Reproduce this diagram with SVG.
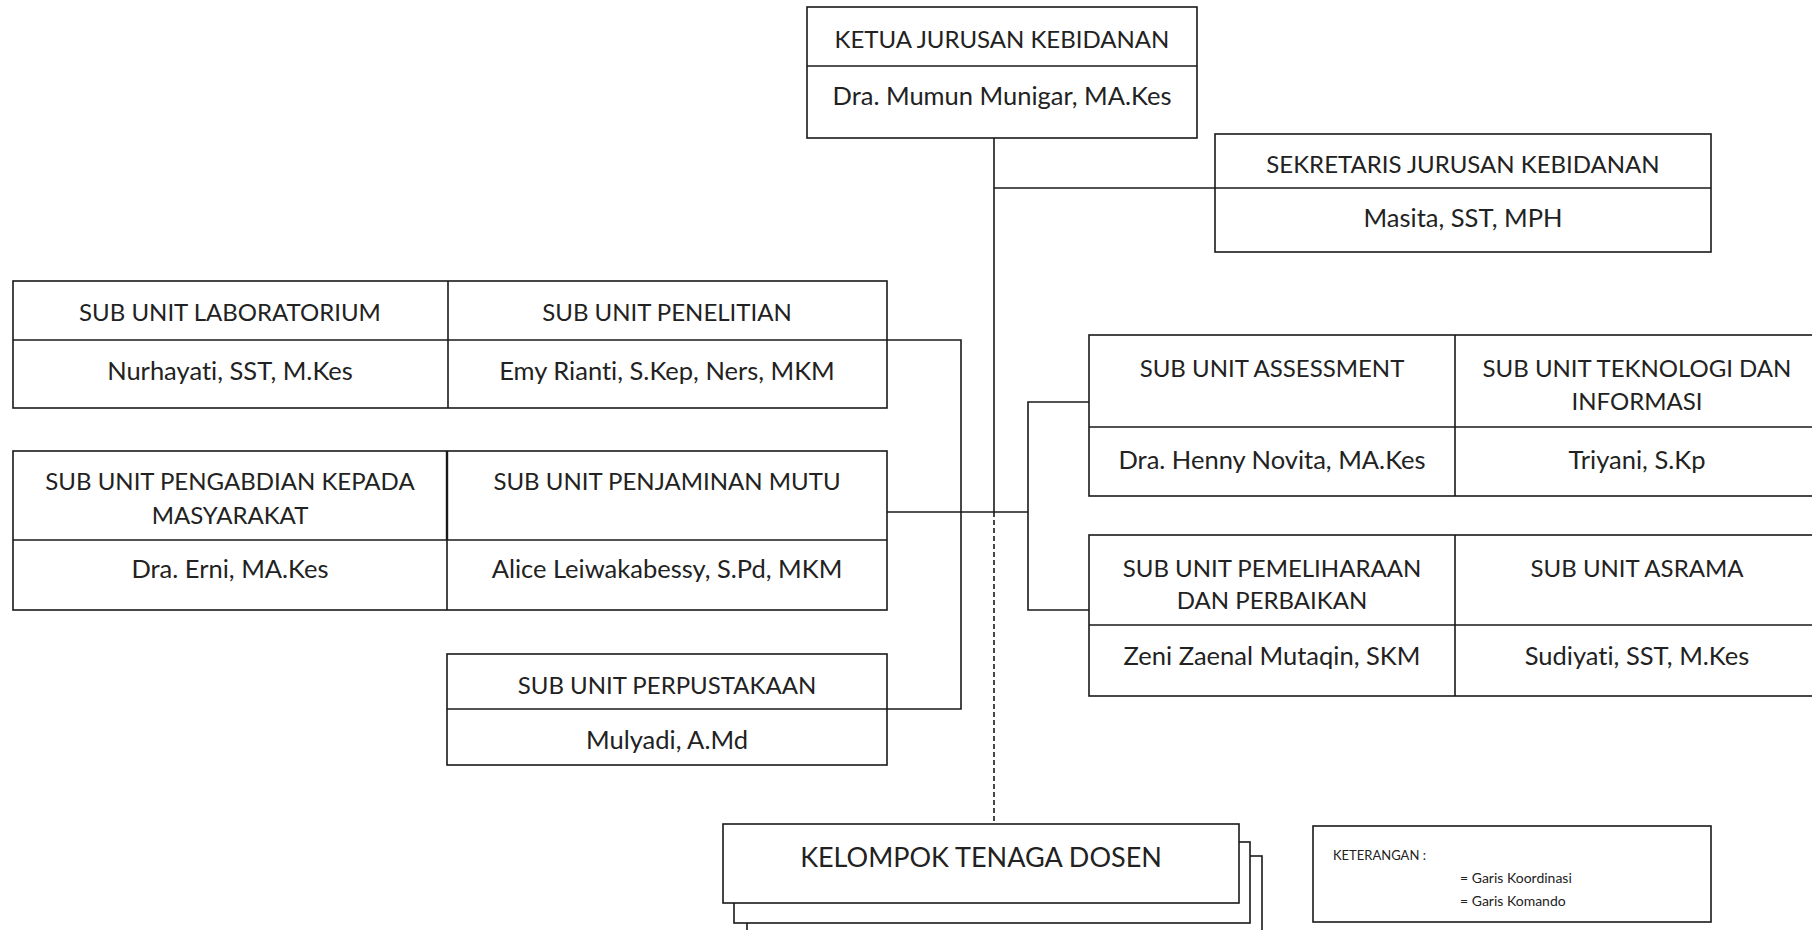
<svg xmlns="http://www.w3.org/2000/svg" width="1812" height="930" viewBox="0 0 1812 930">
<style>
.box{fill:#fff;stroke:#1a1a1a;stroke-width:1.6}
.ln{fill:none;stroke:#1a1a1a;stroke-width:1.6}
.dash{fill:none;stroke:#1a1a1a;stroke-width:1.6;stroke-dasharray:5 3}
text{font-family:Lato,"Open Sans",sans-serif;fill:#222;text-anchor:middle;font-size:24px;font-variant-ligatures:none;font-feature-settings:"liga" 0}
.nm{font-size:25.5px}
.big{font-size:27px}
.lg{font-size:14px;text-anchor:start}
.lk{font-size:13px;text-anchor:start}
</style>
<rect width="1812" height="930" fill="#fff"/>
<g id="connectors">
<path class="ln" d="M994 138V512"/>
<path class="dash" d="M994 512V824"/>
<path class="ln" d="M994 188H1215"/>
<path class="ln" d="M887 512H1028"/>
<path class="ln" d="M887 340H961V709H887"/>
<path class="ln" d="M1089 402H1028V610H1089"/>
</g>
<g id="ketua">
<rect class="box" x="807" y="7" width="390" height="131"/>
<path class="ln" d="M807 66H1197"/>
<text x="1002" y="48">KETUA JURUSAN KEBIDANAN</text>
<text class="nm" x="1002" y="105">Dra. Mumun Munigar, MA.Kes</text>
</g>
<g id="sekretaris">
<rect class="box" x="1215" y="134" width="496" height="118"/>
<path class="ln" d="M1215 188H1711"/>
<text x="1463" y="173">SEKRETARIS JURUSAN KEBIDANAN</text>
<text class="nm" x="1463" y="227">Masita, SST, MPH</text>
</g>
<g id="lab-penelitian">
<rect class="box" x="13" y="281" width="874" height="127"/>
<path class="ln" d="M13 340H887M448 281V408"/>
<text x="230" y="321">SUB UNIT LABORATORIUM</text>
<text x="667" y="321">SUB UNIT PENELITIAN</text>
<text class="nm" x="230" y="380">Nurhayati, SST, M.Kes</text>
<text class="nm" x="667" y="380">Emy Rianti, S.Kep, Ners, MKM</text>
</g>
<g id="pengabdian-penjaminan">
<rect class="box" x="13" y="451" width="874" height="159"/>
<path class="ln" d="M13 540H887M447 540V610"/>
<path class="ln" style="stroke-width:2.4" d="M447 451V540"/>
<text x="230" y="490">SUB UNIT PENGABDIAN KEPADA</text>
<text x="230" y="524">MASYARAKAT</text>
<text x="667" y="490">SUB UNIT PENJAMINAN MUTU</text>
<text class="nm" x="230" y="578">Dra. Erni, MA.Kes</text>
<text class="nm" x="667" y="578">Alice Leiwakabessy, S.Pd, MKM</text>
</g>
<g id="perpustakaan">
<rect class="box" x="447" y="654" width="440" height="111"/>
<path class="ln" d="M447 709H887"/>
<text x="667" y="694">SUB UNIT PERPUSTAKAAN</text>
<text class="nm" x="667" y="749">Mulyadi, A.Md</text>
</g>
<g id="assessment-ti">
<rect class="box" x="1089" y="335" width="740" height="161"/>
<path class="ln" d="M1089 427H1829M1455 335V496"/>
<text x="1272" y="377">SUB UNIT ASSESSMENT</text>
<text x="1637" y="377">SUB UNIT TEKNOLOGI DAN</text>
<text x="1637" y="410">INFORMASI</text>
<text class="nm" x="1272" y="469">Dra. Henny Novita, MA.Kes</text>
<text class="nm" x="1637" y="469">Triyani, S.Kp</text>
</g>
<g id="pemeliharaan-asrama">
<rect class="box" x="1089" y="535" width="740" height="161"/>
<path class="ln" d="M1089 625H1829M1455 535V696"/>
<text x="1272" y="577">SUB UNIT PEMELIHARAAN</text>
<text x="1272" y="609">DAN PERBAIKAN</text>
<text x="1637" y="577">SUB UNIT ASRAMA</text>
<text class="nm" x="1272" y="665">Zeni Zaenal Mutaqin, SKM</text>
<text class="nm" x="1637" y="665">Sudiyati, SST, M.Kes</text>
</g>
<g id="kelompok-dosen">
<rect class="box" x="747" y="856" width="515" height="100"/>
<rect class="box" x="734" y="842" width="516" height="81"/>
<rect class="box" x="723" y="824" width="516" height="79"/>
<text class="big" x="981" y="867">KELOMPOK TENAGA DOSEN</text>
</g>
<g id="keterangan">
<rect class="box" x="1313" y="826" width="398" height="96"/>
<text class="lk" x="1333" y="860">KETERANGAN :</text>
<text class="lg" x="1460" y="883">= Garis Koordinasi</text>
<text class="lg" x="1460" y="906">= Garis Komando</text>
</g>
</svg>
